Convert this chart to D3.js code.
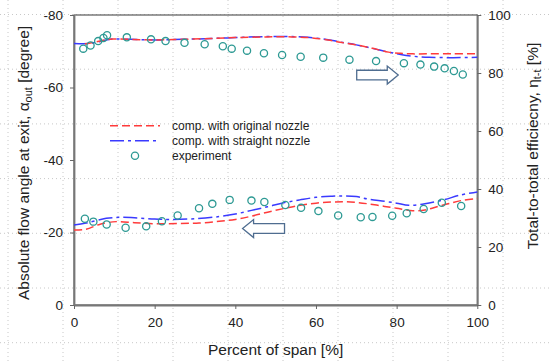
<!DOCTYPE html>
<html>
<head>
<meta charset="utf-8">
<script src="https://cdn.jsdelivr.net/npm/d3@7"></script>
<style>
  body { margin: 0; background: #fff; }
  svg { font-family: "Liberation Sans", Arial, sans-serif; }
</style>
</head>
<body>
<div id="chart"></div>
<script>
// efficiency curves (right axis, %)
const effOrigX = [2.7, 5, 7, 9.5, 14, 20, 27, 34, 40, 46, 52, 58, 63, 66, 70, 74, 78, 81, 84, 88, 94, 100];
const effOrigY = [90.0, 90.6, 91.2, 91.7, 91.6, 91.4, 91.6, 91.9, 92.2, 92.4, 92.5, 92.2, 91.4, 90.6, 89.7, 88.5, 87.2, 86.8, 86.6, 86.6, 86.6, 86.6];
const effStrX = [0, 4, 6.5, 9.5, 14, 20, 27, 34, 40, 46, 52, 58, 63, 66, 70, 74, 78, 81, 84, 88, 94, 100];
const effStrY = [90.2, 90.2, 90.9, 91.7, 91.6, 91.4, 91.6, 91.9, 92.2, 92.5, 92.6, 92.3, 91.5, 90.7, 89.7, 88.5, 87.2, 86.4, 85.8, 85.4, 85.3, 85.4];
const effExpX = [2.3, 4.1, 6.0, 7.3, 8.2, 13.1, 19.1, 22.7, 27.4, 32.4, 36.9, 39.1, 42.9, 47.1, 51.6, 56.2, 61.8, 68.3, 74.9, 81.8, 85.9, 89.3, 91.9, 94.2, 96.4];
const effExpY = [88.4, 89.5, 91.0, 92.1, 93.0, 92.3, 91.6, 91.0, 90.4, 89.9, 89.2, 88.4, 87.7, 86.8, 86.2, 85.6, 85.3, 84.6, 84.1, 83.4, 82.9, 82.2, 81.6, 80.7, 79.5];

// flow angle curves (left axis, degree)
const angOrigX = [0, 3, 6.5, 10.5, 15, 20, 26, 31, 36, 40, 44, 48, 52, 56, 60, 64, 67, 70, 73, 77, 80, 84, 87, 90, 93, 96, 100];
const angOrigY = [-20.7, -20.9, -22.3, -23.0, -22.7, -22.4, -22.5, -22.6, -23.1, -23.6, -24.5, -25.6, -26.6, -27.5, -28.1, -28.4, -28.5, -28.3, -27.9, -27.2, -26.7, -26.0, -26.2, -27.1, -28.0, -28.8, -29.4];
const angStrX = [0, 3, 8, 12, 16, 20, 24, 30, 36, 40, 44, 48, 52, 56, 60, 64, 67, 70, 73, 77, 80, 83, 87, 91.6, 95.7, 100];
const angStrY = [-22.1, -22.6, -23.9, -24.2, -24.0, -23.7, -23.6, -23.8, -24.4, -25.1, -26.1, -27.1, -28.2, -29.0, -29.7, -30.0, -30.1, -29.9, -29.2, -28.6, -28.1, -27.5, -27.9, -29.0, -30.3, -31.2];
const angExpX = [2.7, 4.8, 8.1, 12.8, 17.9, 21.8, 25.7, 31, 34.3, 38.6, 44, 47.2, 52.4, 56.3, 60.6, 65.5, 71.1, 74, 78.9, 82.5, 86.7, 91.2, 96];
const angExpY = [-23.8, -23.0, -22.2, -21.3, -21.7, -23.1, -24.7, -26.7, -27.9, -29.0, -28.8, -28.4, -27.6, -26.8, -25.9, -24.7, -24.2, -24.3, -24.6, -25.3, -26.5, -28.2, -27.3];

const xTicks = [0, 20, 40, 60, 80, 100];
const leftTicks = [-80, -60, -40, -20, 0];
const rightTicks = [0, 20, 40, 60, 80, 100];
const legendLabels = ["comp. with original nozzle", "comp. with straight nozzle", "experiment"];

const W = 552, H = 361;
const m = {left: 74, right: 477.3, top: 15, bottom: 305};
const red = "#ff3b3b", blue = "#3a3aff", teal = "#2e9a94", arrowCol = "#4f6d90";

const svg = d3.select("#chart").append("svg").attr("width", W).attr("height", H);

// faint page grid behind the chart
const bg = svg.append("g").attr("stroke", "#c8c8c8").attr("stroke-dasharray", "1,3").attr("stroke-width", 1);
d3.range(8, W, 55).forEach(x => bg.append("line").attr("x1", x).attr("x2", x).attr("y1", 0).attr("y2", H));
d3.range(14.5, H, 54.7).forEach(y => bg.append("line").attr("x1", 0).attr("x2", W).attr("y1", y).attr("y2", y));

const x = d3.scaleLinear().domain([0, 100]).range([m.left, m.right]);
const yL = d3.scaleLinear().domain([0, -80]).range([m.bottom, m.top]);
const yR = d3.scaleLinear().domain([0, 100]).range([m.bottom, m.top]);

// frame
svg.append("rect").attr("x", m.left).attr("y", m.top).attr("width", m.right - m.left).attr("height", m.bottom - m.top)
  .attr("fill", "none").attr("stroke", "#666").attr("stroke-width", 1.3);

function styleAxis(g) {
  g.select(".domain").attr("stroke", "#777").attr("stroke-width", 1.8);
  g.selectAll(".tick line").attr("stroke", "#666");
  g.selectAll(".tick text").attr("fill", "#222").attr("font-size", 13.5);
}

svg.append("g").attr("transform", `translate(0,${m.bottom})`)
  .call(d3.axisBottom(x).tickValues(xTicks).tickSize(4).tickSizeOuter(0).tickPadding(8).tickFormat(d => String(d)))
  .attr("font-family", null).call(styleAxis);
svg.append("g").attr("transform", `translate(${m.left},0)`)
  .call(d3.axisLeft(yL).tickValues(leftTicks).tickSize(4).tickSizeOuter(0).tickPadding(7).tickFormat(d => String(d)))
  .attr("font-family", null).call(styleAxis);
svg.append("g").attr("transform", `translate(${m.right},0)`)
  .call(d3.axisRight(yR).tickValues(rightTicks).tickSize(4).tickSizeOuter(0).tickPadding(7).tickFormat(d => String(d)))
  .attr("font-family", null).call(styleAxis);

// titles
svg.append("text").attr("x", (m.left + m.right) / 2).attr("y", 355).attr("text-anchor", "middle")
  .attr("font-size", 15.5).attr("fill", "#222").text("Percent of span [%]");

const lt = svg.append("text").attr("transform", "translate(29,163) rotate(-90)").attr("text-anchor", "middle")
  .attr("font-size", 15.5).attr("fill", "#222");
lt.append("tspan").text("Absolute flow angle at exit, α");
lt.append("tspan").attr("baseline-shift", "-25%").attr("font-size", 11).text("out");
lt.append("tspan").text(" [degree]");

const rt = svg.append("text").attr("transform", "translate(538,146) rotate(-90)").attr("text-anchor", "middle")
  .attr("font-size", 15.5).attr("fill", "#222");
rt.append("tspan").text("Total-to-total efficiecny, η");
rt.append("tspan").attr("baseline-shift", "-25%").attr("font-size", 11).text("t-t");
rt.append("tspan").text(" [%]");

// curves
const curve = d3.curveCatmullRom.alpha(0.5);
function drawLine(xs, ys, yScale, color, dash) {
  const pts = xs.map((d, i) => [d, ys[i]]);
  svg.append("path").datum(pts)
    .attr("d", d3.line().x(d => x(d[0])).y(d => yScale(d[1])).curve(curve))
    .attr("fill", "none").attr("stroke", color).attr("stroke-width", 1.5).attr("stroke-dasharray", dash);
}
drawLine(effStrX, effStrY, yR, blue, "14,4,3,4");
drawLine(effOrigX, effOrigY, yR, red, "8,4");
drawLine(angStrX, angStrY, yL, blue, "14,4,3,4");
drawLine(angOrigX, angOrigY, yL, red, "8,4");

function drawPoints(xs, ys, yScale) {
  svg.append("g").selectAll("circle").data(xs.map((d, i) => [d, ys[i]])).join("circle")
    .attr("cx", d => x(d[0])).attr("cy", d => yScale(d[1])).attr("r", 3.6)
    .attr("fill", "none").attr("stroke", teal).attr("stroke-width", 1.3);
}
drawPoints(effExpX, effExpY, yR);
drawPoints(angExpX, angExpY, yL);

// block arrows (right -> efficiency axis, left -> angle axis)
function blockArrow(x0, x1, yc, dir) {
  const sh = 4.8, hh = 9, hl = 11;
  let p;
  if (dir > 0) {
    const hb = x1 - hl;
    p = [[x0, yc - sh], [hb, yc - sh], [hb, yc - hh], [x1, yc], [hb, yc + hh], [hb, yc + sh], [x0, yc + sh]];
  } else {
    const hb = x0 + hl;
    p = [[x1, yc - sh], [hb, yc - sh], [hb, yc - hh], [x0, yc], [hb, yc + hh], [hb, yc + sh], [x1, yc + sh]];
  }
  svg.append("path").attr("d", "M" + p.join("L") + "Z").attr("fill", "#fff")
    .attr("stroke", arrowCol).attr("stroke-width", 1.3);
}
blockArrow(x(70.1), x(80.4), yR(79.3), 1);
blockArrow(x(41.8), x(52.2), yL(-21.1), -1);

// legend
const lg = svg.append("g").attr("font-size", 12).attr("fill", "#222");
const ly = [125.7, 140.7, 155.7];
lg.append("line").attr("x1", 110).attr("x2", 160).attr("y1", ly[0]).attr("y2", ly[0])
  .attr("stroke", red).attr("stroke-width", 1.5).attr("stroke-dasharray", "8,4");
lg.append("line").attr("x1", 110).attr("x2", 160).attr("y1", ly[1]).attr("y2", ly[1])
  .attr("stroke", blue).attr("stroke-width", 1.5).attr("stroke-dasharray", "14,4,3,4");
lg.append("circle").attr("cx", 135).attr("cy", ly[2]).attr("r", 3.6)
  .attr("fill", "none").attr("stroke", teal).attr("stroke-width", 1.3);
legendLabels.forEach((t, i) => lg.append("text").attr("x", 172).attr("y", ly[i] + 4.3).text(t));
</script>
</body>
</html>
